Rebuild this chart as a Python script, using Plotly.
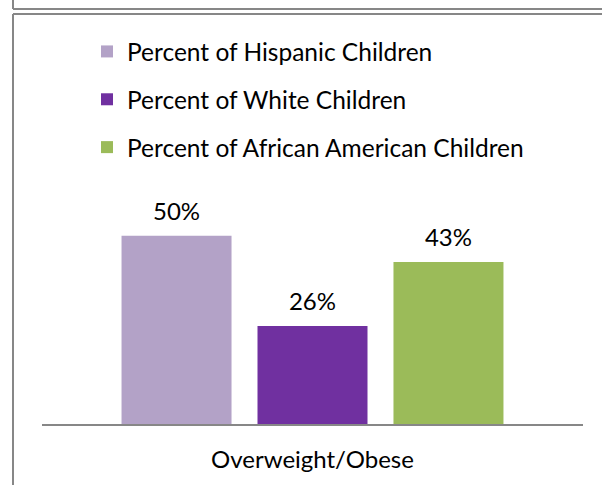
import plotly.graph_objects as go

category = ["Overweight/Obese"]
series_names = ["Percent of Hispanic Children", "Percent of White Children",
                "Percent of African American Children"]
series_values = [[50], [26], [43]]
colors = ["#B3A2C7", "#7030A0", "#9BBB59"]

W, H = 602, 485
L, R, T, B = 42, 19, 198, 61
PW, PH = W - L - R, H - T - B

def px_x(p):
    return (p - L) / PW

def px_y(p):
    return (H - B - p) / PH

FONT = "Lato"
LINE = "#878787"
BARGAP = 0.246

fig = go.Figure()
for i, (name, vals, col) in enumerate(zip(series_names, series_values, colors)):
    fig.add_trace(go.Bar(
        x=category, y=vals, name=name, marker=dict(color=col, line=dict(width=0)),
        offsetgroup=f"g{i}", alignmentgroup="a",
        legendgroup=f"g{i}", hoverinfo="skip",
    ))
for i, vals in enumerate(series_values):
    fig.add_trace(go.Scatter(
        x=category, y=vals, mode="markers+text",
        text=[f"{v}%" for v in vals], textposition="top center",
        textfont=dict(family=FONT, size=24, color="#000000"),
        marker=dict(size=14, color="rgba(0,0,0,0)"),
        offsetgroup=f"g{i}", alignmentgroup="a", cliponaxis=False,
        showlegend=False, hoverinfo="skip",
    ))

shapes = [
    dict(type="line", xref="paper", yref="paper", x0=px_x(13), x1=px_x(602), y0=px_y(9), y1=px_y(9),
         line=dict(color=LINE, width=2)),
    dict(type="line", xref="paper", yref="paper", x0=px_x(13), x1=px_x(13), y0=px_y(0), y1=px_y(9),
         line=dict(color=LINE, width=2)),
    dict(type="line", xref="paper", yref="paper", x0=px_x(13), x1=px_x(602), y0=px_y(14), y1=px_y(14),
         line=dict(color=LINE, width=2)),
    dict(type="line", xref="paper", yref="paper", x0=px_x(13), x1=px_x(13), y0=px_y(14), y1=px_y(485),
         line=dict(color=LINE, width=2)),
]

fig.update_layout(
    width=W, height=H,
    margin=dict(l=L, r=R, t=T, b=B, pad=0, autoexpand=False),
    paper_bgcolor="white", plot_bgcolor="white",
    barmode="group", bargap=BARGAP, bargroupgap=0.191,
    scattermode="group", scattergap=BARGAP,
    font=dict(family=FONT, size=24, color="#000000"),
    showlegend=True,
    legend=dict(x=px_x(87), y=px_y(29), xanchor="left", yanchor="top",
                orientation="v", traceorder="grouped", tracegroupgap=13,
                font=dict(family=FONT, size=24.5, color="#000000"),
                bgcolor="rgba(0,0,0,0)"),
    xaxis=dict(showline=True, linecolor=LINE, linewidth=2, showgrid=False, zeroline=False,
               automargin=False,
               ticks="outside", ticklen=13, tickcolor="rgba(0,0,0,0)",
               tickfont=dict(family=FONT, size=24, color="#000000")),
    yaxis=dict(range=[0, 60], visible=False, showgrid=False, zeroline=False, automargin=False),
    shapes=shapes,
)

fig.write_html("out.html")
